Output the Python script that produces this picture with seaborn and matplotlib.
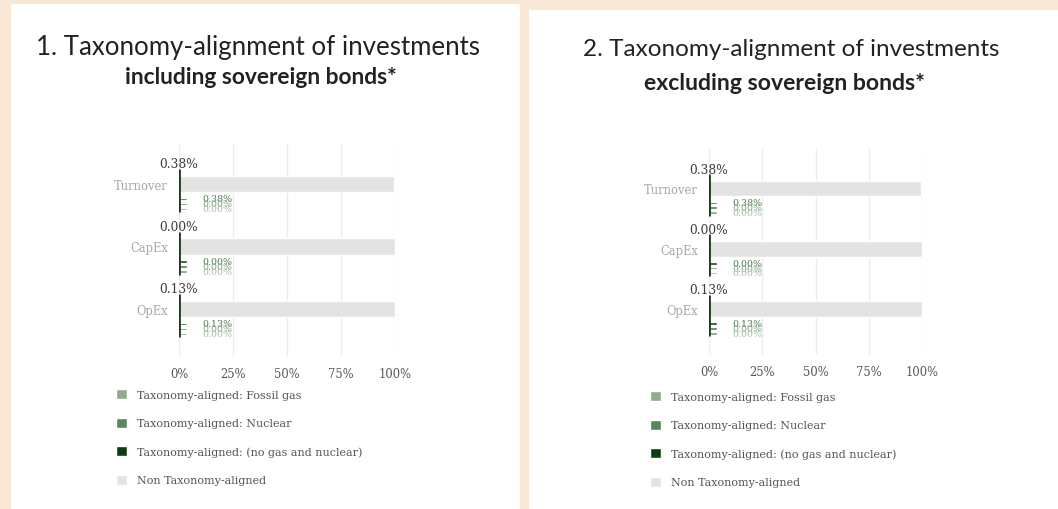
import numpy as np
import pandas as pd
import matplotlib
matplotlib.use('Agg')
import matplotlib.pyplot as plt
import seaborn as sns
from matplotlib.patches import Patch, Rectangle

# Data (same values in both panels)
categories = ['Turnover', 'CapEx', 'OpEx']
aligned_total = [0.38, 0.00, 0.13]
no_gas_nuclear = [0.38, 0.00, 0.13]
nuclear = [0.00, 0.00, 0.00]
fossil_gas = [0.00, 0.00, 0.00]
non_aligned = [99.62, 100.00, 99.87]
x_ticks = [0, 25, 50, 75, 100]
x_tick_labels = ['0%', '25%', '50%', '75%', '100%']
legend_labels = ['Taxonomy-aligned: Fossil gas', 'Taxonomy-aligned: Nuclear',
                 'Taxonomy-aligned: (no gas and nuclear)', 'Non Taxonomy-aligned']
titles = [('1. Taxonomy-alignment of investments', 'including sovereign bonds*'),
          ('2. Taxonomy-alignment of investments', 'excluding sovereign bonds*')]

# colours
c_fossil = '#8eab8e'
c_nuclear = '#5a875a'
c_nogas = '#0f3a12'
c_non = '#e3e3e3'
c_bg = '#fae8d7'

W, H = 1058, 510
sns.set_style('white')
plt.rcParams['font.family'] = ['DejaVu Serif']

fig = plt.figure(figsize=(W / 100, H / 100), dpi=100)
fig.patch.set_facecolor(c_bg)

# panel layout in pixels
panels = [
    dict(box=(11, 5, 520, 510), x0=179, x1=395, y0=185, sp=62.5,
         t1=(258, 47, 18.6), t2=(261, 77, 16.4), lx=116, ly=390),
    dict(box=(529, 11, 1058, 510), x0=709, x1=922, y0=189.5, sp=60.3,
         t1=(791, 50, 17.5), t2=(784, 83, 16.6), lx=650, ly=392),
]

ypos = np.arange(len(categories))
min_len = 3.7  # minimum visible bar length used by the original chart

for p, (t1, t2) in zip(panels, titles):
    bx0, by0, bx1, by1 = p['box']
    fig.patches.append(Rectangle((bx0 / W, 1 - by1 / H), (bx1 - bx0) / W, (by1 - by0) / H,
                                 transform=fig.transFigure, facecolor='white', edgecolor='none', zorder=-5))

    top = p['y0'] - 0.65 * p['sp']
    bot = p['y0'] + 2.75 * p['sp']
    ax = fig.add_axes([p['x0'] / W, 1 - bot / H, (p['x1'] - p['x0']) / W, (bot - top) / H])
    ax.set_facecolor('none')
    ax.set_zorder(2)

    df = pd.DataFrame({'cat': categories, 'y': ypos, 'non': non_aligned})
    sns.barplot(data=df, x='non', y='y', orient='y', native_scale=True, width=0.26,
                color=c_non, saturation=1, errorbar=None, ax=ax, zorder=2)

    small = [(no_gas_nuclear, '#1d3f1d', '#4f7c4f', 0.24),
             (nuclear, '#4f7f4f', '#86a886', 0.32),
             (fossil_gas, '#7fa07f', '#a9bfa9', 0.40)]
    for vals, col, tcol, off in small:
        d = pd.DataFrame({'v': np.maximum(vals, min_len), 'y': ypos + off})
        sns.barplot(data=d, x='v', y='y', orient='y', native_scale=True, width=0.045,
                    color=col, saturation=1, errorbar=None, ax=ax, zorder=3)
        for yy, v in zip(ypos + off, vals):
            ax.text(11, yy, f'{v:.2f}%', ha='left', va='center', fontsize=6.8, color=tcol)

    ax.vlines(np.zeros(len(ypos)), ypos - 0.24, ypos + 0.45, color='#1c3a1c', lw=2, zorder=4)
    for yy, v in zip(ypos, aligned_total):
        ax.text(0, yy - 0.32, f'{v:.2f}%', ha='center', va='center', fontsize=8.8, color='#3c3c3c')

    ax.set_xlim(0, 100)
    ax.set_ylim(2.75, -0.65)
    ax.set_xticks(x_ticks)
    ax.set_xticklabels(x_tick_labels)
    ax.set_yticks(ypos)
    ax.set_yticklabels(categories)
    ax.set_yticks(ypos + 0.5, minor=True)
    ax.tick_params(axis='y', which='major', length=0, pad=8, labelsize=8.3, labelcolor='#a8a8a8')
    ax.tick_params(axis='y', which='minor', length=8, color='#e6e6e6', width=0.8)
    ax.tick_params(axis='x', length=0, pad=8, labelsize=8.3, labelcolor='#555555')
    ax.grid(axis='x', color='#ececec', lw=1, zorder=0)
    ax.grid(axis='y', visible=False)
    ax.set_axisbelow(True)
    ax.set_xlabel('')
    ax.set_ylabel('')
    sns.despine(ax=ax, left=True, bottom=True)

    x, y, s = p['t1']
    fig.text(x / W, 1 - y / H, t1, ha='center', va='center',
             fontsize=s, family='Lato', color='#222222')
    x, y, s = p['t2']
    fig.text(x / W, 1 - y / H, t2, ha='center', va='center',
             fontsize=s, family='Lato', fontweight='bold', color='#222222')

    handles = [Patch(facecolor=c_fossil), Patch(facecolor=c_nuclear),
               Patch(facecolor=c_nogas), Patch(facecolor=c_non)]
    leg = fig.legend(handles, legend_labels, loc='upper left',
                     bbox_to_anchor=(p['lx'] / W, 1 - p['ly'] / H), frameon=False,
                     fontsize=8, labelspacing=1.6, handlelength=1.0, handleheight=1.0,
                     handletextpad=0.9, borderpad=0, borderaxespad=0)
    for t in leg.get_texts():
        t.set_color('#555555')

fig.savefig('out.png', dpi=100, facecolor=fig.get_facecolor())
